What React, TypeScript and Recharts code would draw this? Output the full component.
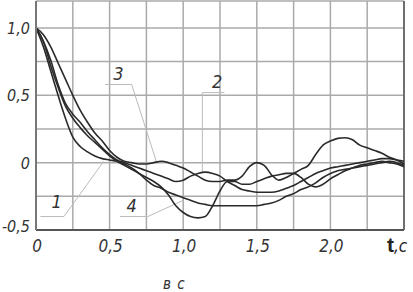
import { LineChart, Line, XAxis, YAxis, CartesianGrid, ReferenceLine, ReferenceDot } from "recharts";

// time, s
const T = [
  0, 0.05, 0.1, 0.15, 0.2, 0.25, 0.3, 0.35, 0.4, 0.45, 0.5, 0.55, 0.6, 0.65, 0.7, 0.75, 0.8,
  0.85, 0.9, 0.95, 1.0, 1.05, 1.1, 1.15, 1.2, 1.25, 1.3, 1.35, 1.4, 1.45, 1.5, 1.55, 1.6, 1.65,
  1.7, 1.75, 1.8, 1.85, 1.9, 1.95, 2.0, 2.05, 2.1, 2.15, 2.2, 2.25, 2.3, 2.35, 2.4, 2.45, 2.5,
];

const CURVE_1 = [
  1.0, 0.86, 0.68, 0.5, 0.33, 0.19, 0.12, 0.08, 0.05, 0.03, 0.02, 0.01, -0.01, -0.04, -0.08,
  -0.13, -0.17, -0.19, -0.22, -0.24, -0.26, -0.28, -0.3, -0.31, -0.32, -0.32, -0.32, -0.32,
  -0.32, -0.32, -0.32, -0.31, -0.3, -0.28, -0.25, -0.23, -0.2, -0.18, -0.15, -0.11, -0.08,
  -0.06, -0.05, -0.04, -0.03, -0.02, -0.01, 0.0, 0.01, 0.0, -0.02,
];

const CURVE_2 = [
  1.0, 0.9, 0.76, 0.58, 0.44, 0.36, 0.3, 0.23, 0.17, 0.11, 0.06, 0.02, 0.0, -0.02, -0.04,
  -0.06, -0.08, -0.1, -0.12, -0.14, -0.13, -0.1, -0.08, -0.07, -0.08, -0.1, -0.14, -0.17,
  -0.2, -0.21, -0.22, -0.22, -0.22, -0.21, -0.19, -0.17, -0.14, -0.11, -0.08, -0.06, -0.04,
  -0.03, -0.02, -0.01, 0.0, 0.01, 0.02, 0.03, 0.03, 0.02, 0.01,
];

const CURVE_3 = [
  1.0, 0.95, 0.86, 0.74, 0.62, 0.5, 0.39, 0.3, 0.22, 0.16, 0.09, 0.04, 0.01, 0.0, -0.01,
  -0.01, 0.0, 0.01, 0.0, -0.02, -0.04, -0.07, -0.1, -0.13, -0.14, -0.14, -0.13, -0.13, -0.1,
  -0.03, 0.0, -0.02, -0.09, -0.13, -0.11, -0.08, -0.05, -0.02, 0.06, 0.13, 0.16, 0.18, 0.185,
  0.17, 0.13, 0.11, 0.09, 0.07, 0.04, 0.02, -0.01,
];

const CURVE_4 = [
  1.0, 0.9, 0.72, 0.56, 0.42, 0.33, 0.26, 0.2, 0.15, 0.1, 0.05, 0.01, -0.02, -0.05, -0.08,
  -0.11, -0.14, -0.18, -0.24, -0.32, -0.37, -0.4, -0.41, -0.4, -0.32, -0.21, -0.14, -0.14,
  -0.16, -0.16, -0.14, -0.12, -0.1, -0.09, -0.08, -0.08, -0.11, -0.16, -0.18, -0.16, -0.12,
  -0.09, -0.06, -0.04, -0.02, -0.01, 0.0, 0.01, 0.0, -0.01, -0.03,
];

const X_TICKS = [0, 0.25, 0.5, 0.75, 1.0, 1.25, 1.5, 1.75, 2.0, 2.25, 2.5];
const Y_TICKS = [-0.5, -0.25, 0, 0.25, 0.5, 0.75, 1.0, 1.2];
const X_LABELS: Record<string, string> = { "0": "0", "0.5": "0,5", "1": "1,0", "1.5": "1,5", "2": "2,0" };
const Y_LABELS: Record<string, string> = { "-0.5": "-0,5", "0": "0", "0.5": "0,5", "1": "1,0" };

// curve numbers and their leader lines (data coordinates)
const CALLOUTS = [
  { name: "1", at: [0.14, -0.29], leader: [[0.03, -0.4], [0.19, -0.4], [0.46, 0.01]] },
  { name: "2", at: [1.23, 0.6], leader: [[1.28, 0.52], [1.13, 0.52], [1.13, -0.07]] },
  { name: "3", at: [0.56, 0.66], leader: [[0.47, 0.58], [0.65, 0.58], [0.82, 0.0]] },
  { name: "4", at: [0.65, -0.32], leader: [[0.57, -0.4], [0.76, -0.4], [1.0, -0.28]] },
];

const FONT = "'Liberation Sans Narrow', 'DejaVu Sans Condensed', 'Liberation Sans', sans-serif";
const INK = "#2a2a2a";

const data = T.map((t, i) => ({
  t,
  c1: CURVE_1[i],
  c2: CURVE_2[i],
  c3: CURVE_3[i],
  c4: CURVE_4[i],
}));

function XTick({ x, y, payload }: any) {
  const v = payload.value;
  if (v === 2.5) {
    return (
      <text x={x - 17} y={y + 18} fontFamily={FONT} fontSize={17} fill="#222">
        <tspan fontFamily="'Liberation Sans', sans-serif" fontWeight="bold" fontSize={21}>t</tspan>
        <tspan fontStyle="italic">,c</tspan>
      </text>
    );
  }
  const label = X_LABELS[String(v)];
  if (!label) return <g />;
  return (
    <text x={x + 1} y={y + 18} textAnchor="middle" fontFamily={FONT} fontStyle="italic" fontSize={17} fill="#333">
      {label}
    </text>
  );
}

function YTick({ x, y, payload }: any) {
  const label = Y_LABELS[String(payload.value)];
  if (!label) return <g />;
  const shift = payload.value === -0.5 ? -4 : 0;
  return (
    <text x={x} y={y + shift} dy={6} textAnchor="end" fontFamily={FONT} fontStyle="italic" fontSize={16} fill="#333">
      {label}
    </text>
  );
}

export default function App() {
  return (
    <div style={{ position: "absolute", left: 0, top: 0, width: 413, height: 292, background: "#fff" }}>
      <LineChart width={413} height={292} data={data} margin={{ top: 1, right: 9, bottom: 0, left: 0 }}>
        <CartesianGrid stroke="#aaa" strokeWidth={1.5} />
        <XAxis
          dataKey="t"
          type="number"
          domain={[0, 2.5]}
          ticks={X_TICKS}
          tick={<XTick />}
          tickLine={false}
          tickSize={0}
          tickMargin={4}
          height={62}
          axisLine={{ stroke: "#555", strokeWidth: 2 }}
          interval={0}
        />
        <YAxis
          type="number"
          domain={[-0.5, 1.2]}
          ticks={Y_TICKS}
          tick={<YTick />}
          tickLine={false}
          tickSize={0}
          tickMargin={6}
          width={36}
          axisLine={{ stroke: "#777", strokeWidth: 2 }}
          interval={0}
        />
        <ReferenceLine x={2.5} stroke="#555" strokeWidth={1.5} />
        {CALLOUTS.map((c) =>
          c.leader.slice(1).map((p, i) => (
            <ReferenceLine
              key={`${c.name}-${i}`}
              segment={[
                { x: c.leader[i][0], y: c.leader[i][1] },
                { x: p[0], y: p[1] },
              ]}
              stroke="#bbb"
              strokeWidth={1}
            />
          ))
        )}
        {CALLOUTS.map((c) => (
          <ReferenceDot
            key={c.name}
            x={c.at[0]}
            y={c.at[1]}
            r={0}
            stroke="none"
            label={{ value: c.name, position: "center", fontFamily: FONT, fontStyle: "italic", fontSize: 18, fill: "#333" }}
          />
        ))}
        {["c1", "c2", "c3", "c4"].map((k) => (
          <Line
            key={k}
            type="monotone"
            dataKey={k}
            stroke={INK}
            strokeWidth={1.6}
            dot={false}
            isAnimationActive={false}
          />
        ))}
      </LineChart>
      <div
        style={{
          position: "absolute",
          left: 163,
          top: 275,
          fontFamily: FONT,
          fontStyle: "italic",
          fontSize: 15,
          color: "#333",
          letterSpacing: 1,
        }}
      >
        в с
      </div>
    </div>
  );
}
